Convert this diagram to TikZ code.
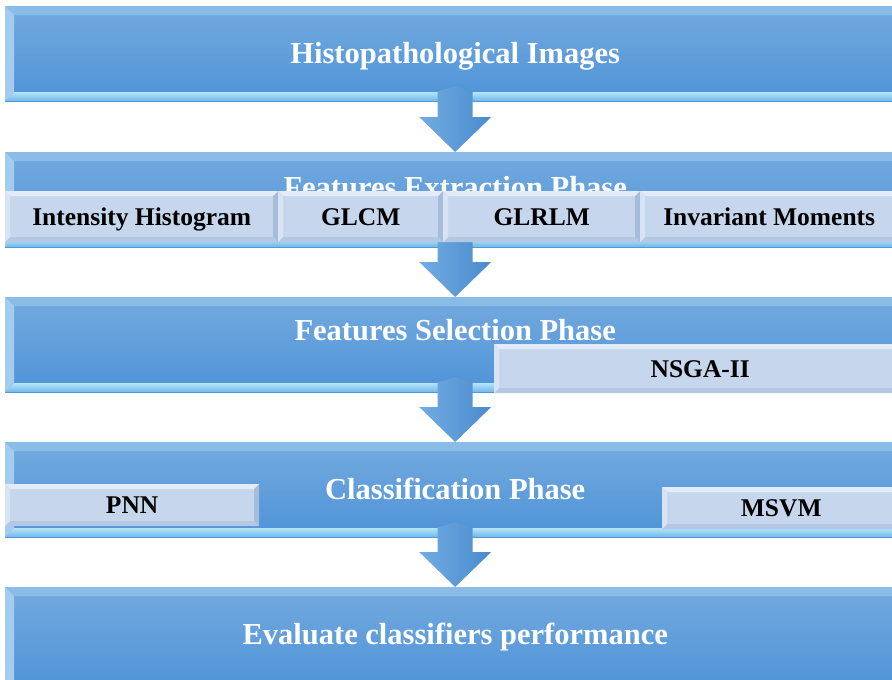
\documentclass[tikz,border=0pt]{standalone}
\usepackage{fontspec}
\setmainfont{Liberation Serif}
\usetikzlibrary{calc}
\definecolor{boxtop}{HTML}{74AADF}
\definecolor{boxbot}{HTML}{4E93D7}
\definecolor{bevlight}{HTML}{B2E4FA}
\definecolor{bevdark}{HTML}{72B6E8}
\definecolor{bevleft}{HTML}{A4CCEE}
\definecolor{bevtop}{HTML}{8BBCE8}
\definecolor{subfill}{HTML}{C6D7ED}
\definecolor{subtop}{HTML}{E2EBF7}
\definecolor{subleft}{HTML}{D8E4F4}
\definecolor{subright}{HTML}{A6BCDA}
\definecolor{subbot}{HTML}{B4C8E3}
\definecolor{arrowl}{HTML}{72ACE2}
\definecolor{arrowr}{HTML}{4A8BCD}
\tikzset{
  mainbox/.style={rectangle, anchor=north west, inner sep=0pt,
    minimum width=900pt, minimum height=95pt,
    top color=boxtop, bottom color=boxbot,
    path picture={
      \fill[bevtop] (path picture bounding box.north west) -- (path picture bounding box.north east)
        -- ++(-9,9) -- ($(path picture bounding box.north west)+(9,9)$) -- cycle;
      \fill[bevleft] (path picture bounding box.north west) -- ($(path picture bounding box.north west)+(9,9)$)
        -- ($(path picture bounding box.south west)+(9,-9)$) -- (path picture bounding box.south west) -- cycle;
      \shade[top color=bevlight, bottom color=bevdark] (path picture bounding box.south west)
        -- (path picture bounding box.south east) -- ++(-9,-9)
        -- ($(path picture bounding box.south west)+(9,-9)$) -- cycle;
    }},
  title/.style={text=white, inner sep=0pt, text height=22pt, text depth=1.5pt,
    font=\fontsize{30.5}{36}\selectfont\bfseries},
  subbox/.style={rectangle, anchor=north west, inner sep=0pt, fill=subfill, text=black,
    text height=18.4pt, text depth=1.3pt,
    font=\fontsize{25.5}{30}\selectfont\bfseries,
    path picture={
      \fill[subtop] (path picture bounding box.north west) -- (path picture bounding box.north east)
        -- ++(-5,5) -- ($(path picture bounding box.north west)+(5,5)$) -- cycle;
      \fill[subleft] (path picture bounding box.north west) -- ($(path picture bounding box.north west)+(5,5)$)
        -- ($(path picture bounding box.south west)+(5,-5)$) -- (path picture bounding box.south west) -- cycle;
      \fill[subright] (path picture bounding box.north east) -- ($(path picture bounding box.north east)+(-5,5)$)
        -- ($(path picture bounding box.south east)+(-5,-5)$) -- (path picture bounding box.south east) -- cycle;
      \fill[subbot] (path picture bounding box.south west) -- (path picture bounding box.south east)
        -- ++(-5,-5) -- ($(path picture bounding box.south west)+(5,-5)$) -- cycle;
    }},
  blockarrow/.style={left color=arrowl, right color=arrowr}
}
\newcommand\myblockarrow[2]{%
  \shade[blockarrow] ($(#1.south)+(-17.5,-10)$) -- ($(#1.south)+(0,-15)$) -- ($(#1.south)+(17.5,-10)$)
    -- ($(#2.north)+(17.5,-35)$) -- ($(#2.north)+(36,-35)$) -- (#2.north)
    -- ($(#2.north)+(-36,-35)$) -- ($(#2.north)+(-17.5,-35)$) -- cycle;}
\begin{document}
\begin{tikzpicture}[x=1pt,y=-1pt]
\useasboundingbox (0,0) rectangle (892,680);
\clip (0,0) rectangle (892,680);
\fill[white] (0,0) rectangle (892,680);
% main boxes
\node[mainbox] (b1) at (5,6) {};
\node[mainbox] (b2) at (5,152) {};
\node[mainbox] (b3) at (5,297) {};
\node[mainbox] (b4) at (5,442) {};
\node[mainbox, minimum height=102pt] (b5) at (5,587) {};
% titles
\node[title] (t1) at (b1.center) {Histopathological Images};
\node[title] (t2) at ($(b2.north)+(0,35)$) {Features Extraction Phase};
\node[title] (t3) at ($(b3.north)+(0,33)$) {Features Selection Phase};
\node[title] (t4) at (b4.center) {Classification Phase};
\node[title] (t5) at ($(b5.north)+(0,47)$) {Evaluate classifiers performance};
% arrows
\myblockarrow{b1}{b2}
\myblockarrow{b2}{b3}
\myblockarrow{b3}{b4}
\myblockarrow{b4}{b5}
% sub boxes
\node[subbox, minimum width=273pt, minimum height=51pt] (ih) at (5,191) {Intensity Histogram};
\node[subbox, minimum width=165pt, minimum height=51pt] (glcm) at (278,191) {GLCM};
\node[subbox, minimum width=197pt, minimum height=51pt] (glrlm) at (443,191) {GLRLM};
\node[subbox, minimum width=258pt, minimum height=51pt] (im) at (640,191) {Invariant Moments};
\node[subbox, minimum width=412pt, minimum height=49pt] (nsga) at (494,344) {NSGA-II};
\node[subbox, minimum width=254pt, minimum height=42pt] (pnn) at (5,484) {PNN};
\node[subbox, minimum width=238pt, minimum height=42pt] (msvm) at (662,487) {MSVM};
\end{tikzpicture}
\end{document}
